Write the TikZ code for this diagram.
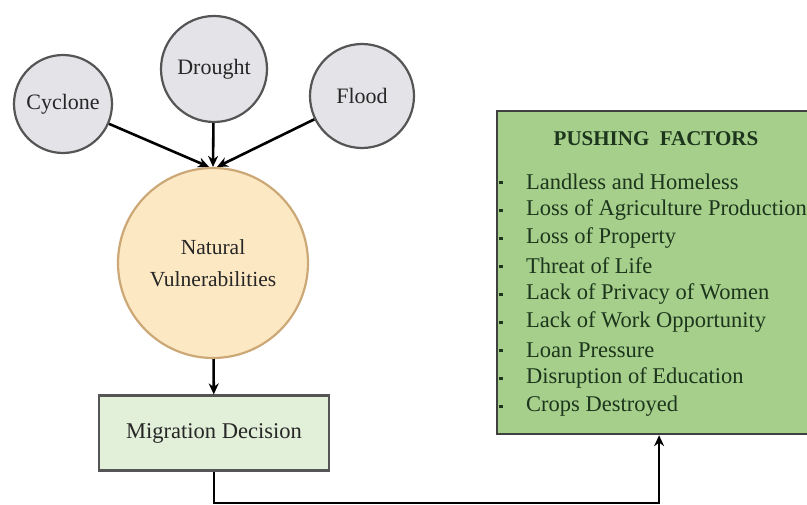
\documentclass[tikz,border=0pt]{standalone}
\usepackage{fontspec}
\setmainfont{Liberation Serif}
\usetikzlibrary{shapes}
\usetikzlibrary{arrows.meta}
\definecolor{hazardfill}{HTML}{E4E4E8}
\definecolor{hazardline}{HTML}{555555}
\definecolor{natfill}{HTML}{FDE8C4}
\definecolor{natline}{HTML}{CCA877}
\definecolor{decfill}{HTML}{E2EFD9}
\definecolor{pushfill}{HTML}{A6CF8B}
\definecolor{pushtext}{HTML}{1C351C}
\tikzset{
  hazard/.style={draw=hazardline,fill=hazardfill,circle,line width=2.2pt,inner sep=0pt,
    font=\fontsize{22}{24}\selectfont,text=black!85},
  flow/.style={-{Stealth[length=11pt,width=10pt]},line width=2.6pt},
  bulletmark/.style={fill=pushtext,inner sep=0pt,minimum width=4pt,minimum height=3pt},
}
\begin{document}
\begin{tikzpicture}[x=1pt,y=-1pt]
\clip (0,0) rectangle (807,505);
\fill[white] (0,0) rectangle (807,505);
\node[hazard,minimum size=98pt] (cyc) at (63,104) {Cyclone};
\node[hazard,minimum size=106pt] (dro) at (214,69) {Drought};
\node[hazard,minimum size=104pt] (flo) at (362,96) {Flood};
\node[draw=natline,fill=natfill,circle,line width=2.2pt,minimum size=190pt,inner sep=0pt,
  align=center,font=\fontsize{21.5}{32}\selectfont,text=black!85] (nat) at (213,263) {Natural\\Vulnerabilities};
\node[draw=hazardline,fill=decfill,line width=2.2pt,minimum width=230pt,minimum height=75pt,
  font=\fontsize{22.5}{24}\selectfont,text=black!85] (mig) at (214,433) {Migration Decision};
\node[draw=black!75,fill=pushfill,line width=2.2pt,minimum width=324pt,minimum height=323pt,
  anchor=north west] (push) at (496,110) {};
\node[font=\bfseries\fontsize{21}{24}\selectfont,text=pushtext] (title) at (656,139) {PUSHING\ \ FACTORS};
\foreach \txt [count=\i] in {Landless and Homeless,Loss of Agriculture Production,Loss of Property,
  Threat of Life,Lack of Privacy of Women,Lack of Work Opportunity,Loan Pressure,
  Disruption of Education,Crops Destroyed}{
  \node[bulletmark] (dot\i) at (501,183+28*\i-28) {};
  \node[anchor=west,font=\fontsize{22.5}{24}\selectfont,text=pushtext,inner sep=0pt] (item\i) at (526,182+28*\i-28) {\txt};
}
\draw[flow] (cyc) -- ([xshift=-4pt]nat.north);
\draw[flow] (dro) -- (nat.north);
\draw[flow] (flo) -- ([xshift=4pt]nat.north);
\draw[flow] (nat) -- (mig);
\coordinate (low) at (214,503);
\draw[flow] (mig) -- (low) -| (push.south);
\end{tikzpicture}
\end{document}
